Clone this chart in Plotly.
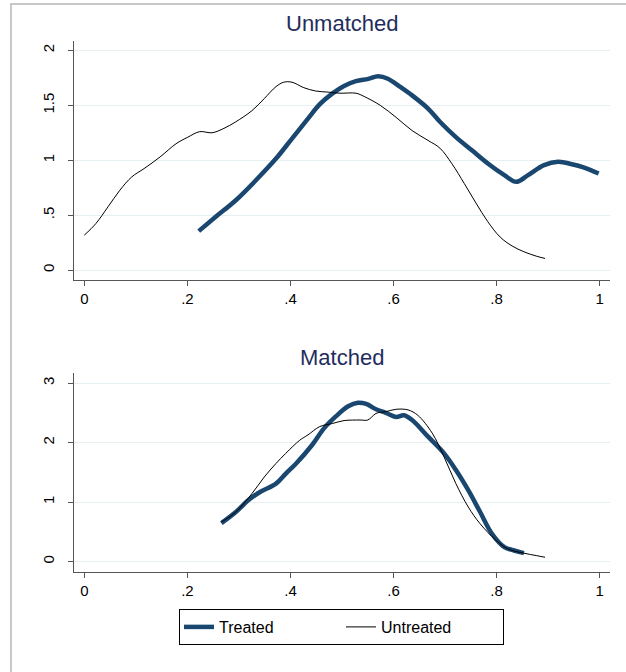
import plotly.graph_objects as go

# Unmatched panel
um_untreated_x = [0, .0225, .046, .069, .092, .116, .147, .178, .201, .224, .248, .271, .294, .325, .349,
                  .372, .387, .403, .426, .449, .473, .496, .527, .543, .574, .605, .636, .667, .690, .713,
                  .737, .760, .783, .807, .830, .853, .877, .894]
um_untreated_y = [.318, .424, .576, .727, .848, .924, 1.03, 1.15, 1.21, 1.26, 1.25, 1.29, 1.35, 1.45, 1.56,
                  1.67, 1.71, 1.71, 1.66, 1.63, 1.62, 1.61, 1.61, 1.58, 1.50, 1.39, 1.27, 1.18, 1.11, .97,
                  .79, .61, .44, .30, .22, .167, .127, .106]
um_treated_x = [.222, .255, .294, .333, .372, .403, .434, .457, .481, .504, .527, .551, .570, .589, .613,
                .636, .667, .690, .721, .752, .783, .815, .838, .861, .892, .919, .946, .970, .998]
um_treated_y = [.355, .485, .636, .818, 1.015, 1.197, 1.379, 1.51, 1.606, 1.676, 1.72, 1.74, 1.764, 1.742,
                1.667, 1.59, 1.47, 1.35, 1.21, 1.09, .97, .864, .803, .864, .955, .985, .964, .933, .879]

# Matched panel
m_treated_x = [.266, .294, .318, .341, .372, .391, .411, .442, .465, .488, .512, .531, .547, .566, .585,
               .605, .620, .636, .667, .698, .721, .745, .768, .791, .815, .830, .853]
m_treated_y = [.647, .833, 1.03, 1.17, 1.31, 1.48, 1.65, 1.96, 2.24, 2.44, 2.61, 2.67, 2.65, 2.56, 2.50,
               2.43, 2.46, 2.38, 2.10, 1.82, 1.54, 1.20, .833, .467, .242, .197, .141]
m_untreated_x = [.266, .294, .325, .349, .372, .391, .418, .434, .457, .481, .504, .535, .550, .566, .585,
                 .605, .628, .647, .675, .698, .721, .745, .768, .799, .822, .853, .877, .894]
m_untreated_y = [.664, .833, 1.14, 1.42, 1.65, 1.82, 2.04, 2.13, 2.27, 2.32, 2.37, 2.38, 2.38, 2.49, 2.52,
                 2.56, 2.55, 2.46, 2.16, 1.76, 1.31, .917, .636, .355, .214, .141, .101, .073]

x_tickvals = [0, .2, .4, .6, .8, 1]
x_ticktext = ["0", ".2", ".4", ".6", ".8", "1"]
top_tickvals = [0, .5, 1, 1.5, 2]
top_ticktext = ["0", ".5", "1", "1.5", "2"]
bot_tickvals = [0, 1, 2, 3]
bot_ticktext = ["0", "1", "2", "3"]

NAVY = "#1a476f"
W, H = 626, 672
FONT = "Liberation Sans, Arial"

fig = go.Figure()
fig.add_trace(go.Scatter(x=um_treated_x, y=um_treated_y, mode="lines", line=dict(color=NAVY, width=4.5, shape="spline"),
                         name="Treated", xaxis="x", yaxis="y", showlegend=True, legendgroup="t"))
fig.add_trace(go.Scatter(x=um_untreated_x, y=um_untreated_y, mode="lines", line=dict(color="black", width=1, shape="spline"),
                         name="Untreated", xaxis="x", yaxis="y", showlegend=True, legendgroup="u"))
fig.add_trace(go.Scatter(x=m_treated_x, y=m_treated_y, mode="lines", line=dict(color=NAVY, width=4.5, shape="spline"),
                         name="Treated", xaxis="x2", yaxis="y2", showlegend=False, legendgroup="t"))
fig.add_trace(go.Scatter(x=m_untreated_x, y=m_untreated_y, mode="lines", line=dict(color="black", width=1, shape="spline"),
                         name="Untreated", xaxis="x2", yaxis="y2", showlegend=False, legendgroup="u"))

xdom = [74 / W, 610 / W]
axis_common = dict(showline=True, linecolor="#555555", linewidth=1.3, ticks="outside", ticklen=5,
                   tickcolor="#555555", tickfont=dict(family=FONT, size=15, color="black"),
                   zeroline=False)
ygrid = dict(showgrid=True, gridcolor="#e6eff2", gridwidth=1, tickangle=-90, ticklabelstandoff=8)
fig.update_layout(
    width=W, height=H,
    margin=dict(l=0, r=0, t=0, b=0),
    paper_bgcolor="white", plot_bgcolor="white",
    font=dict(family=FONT, color="black"),
    xaxis=dict(domain=xdom, range=[-0.02, 1.02], tickvals=x_tickvals, ticktext=x_ticktext,
               showgrid=False, anchor="y", **axis_common),
    yaxis=dict(domain=[1 - 280 / H, 1 - 41 / H], range=[-0.09, 2.085], tickvals=top_tickvals,
               ticktext=top_ticktext, anchor="x", **ygrid, **axis_common),
    xaxis2=dict(domain=xdom, range=[-0.02, 1.02], tickvals=x_tickvals, ticktext=x_ticktext,
                showgrid=False, anchor="y2", **axis_common),
    yaxis2=dict(domain=[1 - 572 / H, 1 - 373 / H], range=[-0.175, 3.17], tickvals=bot_tickvals,
                ticktext=bot_ticktext, anchor="x2", **ygrid, **axis_common),
    legend=dict(orientation="h", x=341.5 / W, xanchor="center", y=1 - 609 / H, yanchor="top",
                bordercolor="black", borderwidth=1, bgcolor="white",
                font=dict(family=FONT, size=16, color="black"),
                entrywidth=117, entrywidthmode="pixels", tracegroupgap=0),
    annotations=[
        dict(text="Unmatched", x=342 / W, y=1 - 24 / H, xref="paper", yref="paper", showarrow=False,
             font=dict(family=FONT, size=22, color="#1f2d5c"), yanchor="middle"),
        dict(text="Matched", x=342 / W, y=1 - 357 / H, xref="paper", yref="paper", showarrow=False,
             font=dict(family=FONT, size=22, color="#1f2d5c"), yanchor="middle"),
    ],
    shapes=[
        dict(type="rect", xref="paper", yref="paper", x0=11 / W, x1=1.05, y0=-0.05, y1=1 - 4 / H,
             line=dict(color="#c8c8c8", width=2), layer="below"),
    ],
)

fig.write_html("out.html", config={"displayModeBar": False},
               post_script="document.body.style.margin='0';document.body.style.overflow='hidden';")
